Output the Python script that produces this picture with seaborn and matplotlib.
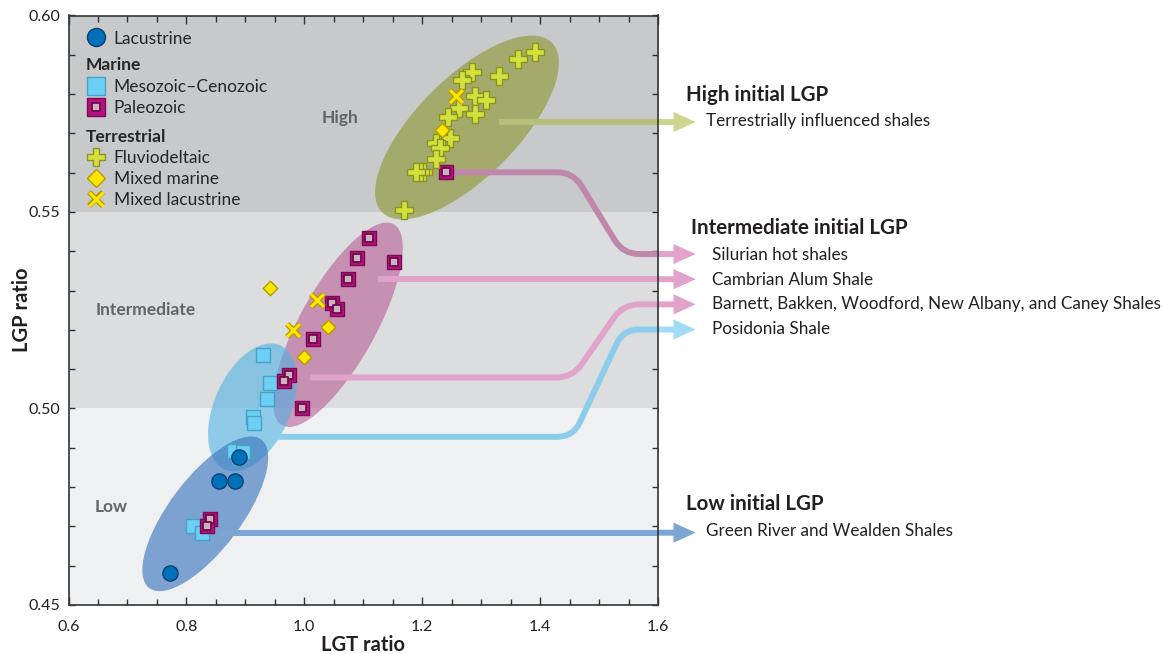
import numpy as np
import matplotlib
matplotlib.use('Agg')
import matplotlib.pyplot as plt
import seaborn as sns
from matplotlib.patches import Ellipse, PathPatch, FancyArrowPatch
from matplotlib.path import Path
from matplotlib.lines import Line2D
from matplotlib.legend_handler import HandlerTuple
from matplotlib.transforms import ScaledTranslation
from matplotlib.ticker import MultipleLocator

# ---- data (LGT ratio, LGP ratio) ----
lac_lgt = [0.773, 0.856, 0.883, 0.889]
lac_lgp = [0.4582, 0.4815, 0.4815, 0.4876]

meso_lgt = [0.930, 0.942, 0.937, 0.913, 0.915, 0.881, 0.896, 0.812, 0.827]
meso_lgp = [0.5135, 0.5066, 0.5025, 0.4979, 0.4963, 0.4892, 0.4889, 0.4700, 0.4682]

paleo_lgt = [1.240, 1.109, 1.089, 1.152, 1.074, 1.047, 1.055, 1.015, 0.974, 0.966, 0.996, 0.840, 0.835]
paleo_lgp = [0.5601, 0.5434, 0.5383, 0.5373, 0.5329, 0.5268, 0.5253, 0.5176, 0.5084, 0.5071, 0.5002, 0.4718, 0.4700]

fluvio_lgt = [1.392, 1.363, 1.331, 1.284, 1.268, 1.290, 1.309, 1.262, 1.290, 1.243,
              1.248, 1.223, 1.231, 1.224, 1.202, 1.196, 1.189, 1.169]
fluvio_lgp = [0.5908, 0.5890, 0.5846, 0.5857, 0.5836, 0.5795, 0.5785, 0.5765, 0.5749, 0.5741,
              0.5688, 0.5675, 0.5662, 0.5634, 0.5603, 0.5601, 0.5603, 0.5506]

mixmar_lgt = [1.233, 0.942, 1.040, 0.999]
mixmar_lgp = [0.5708, 0.5306, 0.5207, 0.5132]

mixlac_lgt = [1.258, 1.021, 0.981]
mixlac_lgp = [0.5795, 0.5276, 0.5201]

# LGP bands
band_lo = [0.45, 0.50, 0.55]
band_hi = [0.50, 0.55, 0.60]
band_col = ['#eff0f2', '#dcdddf', '#c8c9cb']

# grouping ellipses: centre (data), semi axes (px), angle (deg)
ell_cx = [1.276, 1.057, 0.912, 0.832]
ell_cy = [0.5715, 0.5213, 0.5003, 0.4732]
ell_a = [120, 115, 68, 93]
ell_b = [50, 38, 38, 36]
ell_ang = [45, 61, 66, 53]
ell_col = ['#959e43', '#b5528f', '#4fb3e3', '#3d78be']
ell_alpha = [0.7, 0.55, 0.6, 0.65]

# connector routes (data coords) and labels
routes = [
    ([1.331, 1.6], [0.5729, 0.5729]),
    ([1.240, 1.456, 1.541, 1.6], [0.5601, 0.5601, 0.5393, 0.5393]),
    ([1.125, 1.6], [0.5329, 0.5329]),
    ([1.010, 1.455, 1.541, 1.6], [0.5079, 0.5079, 0.5265, 0.5265]),
    ([0.944, 1.456, 1.541, 1.6], [0.4928, 0.4928, 0.5201, 0.5201]),
    ([0.857, 1.6], [0.4684, 0.4684]),
]
route_col = ['#b6be7a', '#bf87aa', '#e0a3ca', '#e0a3ca', '#8ccdec', '#7ea6d4']
arrow_col = ['#cdd68f', '#e2a2cc', '#e2a2cc', '#e2a2cc', '#a0dcf5', '#7da5d4']
arrow_tip = 1.664

W, H = 1163, 654

sns.set_theme(style='ticks')
plt.rcParams['font.family'] = ['Lato', 'DejaVu Sans']

fig = plt.figure(figsize=(W / 100, H / 100), dpi=100)
ax = fig.add_axes([68.5 / W, 1 - 605 / H, 589.5 / W, 589.5 / H])
ax.set_xlim(0.6, 1.6)
ax.set_ylim(0.45, 0.60)
ax.set_facecolor('white')


def fpos(x, y):
    return x / W, 1 - y / H


# background bands
for lo, hi, c in zip(band_lo, band_hi, band_col):
    ax.axhspan(lo, hi, color=c, zorder=0, lw=0)

# ellipses (size in pixels, placed at data centre)
for cx, cy, a, b, ang, c, al in zip(ell_cx, ell_cy, ell_a, ell_b, ell_ang, ell_col, ell_alpha):
    tr = fig.dpi_scale_trans + ScaledTranslation(cx, cy, ax.transData)
    ax.add_patch(Ellipse((0, 0), 2 * a / 100, 2 * b / 100, angle=ang, transform=tr,
                         facecolor=c, alpha=al, lw=0, zorder=1))


def connector(xs, ys, color, r=16):
    pts = ax.transData.transform(np.column_stack([xs, ys]))
    verts, codes = [pts[0]], [Path.MOVETO]
    for i in range(1, len(pts) - 1):
        p, v, n = pts[i - 1], pts[i], pts[i + 1]
        up = (p - v) / np.linalg.norm(p - v)
        un = (n - v) / np.linalg.norm(n - v)
        verts += [v + r * up, v, v + r * un]
        codes += [Path.LINETO, Path.CURVE3, Path.CURVE3]
    verts.append(pts[-1])
    codes.append(Path.LINETO)
    verts = ax.transData.inverted().transform(np.array(verts))
    ax.add_patch(PathPatch(Path(verts, codes), fill=False, edgecolor=color, lw=4.3,
                           capstyle='butt', joinstyle='round', zorder=2))


for (xs, ys), lc, ac in zip(routes, route_col, arrow_col):
    connector(xs, ys, lc)
    arr = FancyArrowPatch((xs[-1], ys[-1]), (arrow_tip, ys[-1]),
                          arrowstyle='simple,head_length=1.6,head_width=1.45,tail_width=0.43',
                          mutation_scale=10, color=ac, lw=0, shrinkA=0, shrinkB=0,
                          clip_on=False, zorder=2)
    ax.add_patch(arr)

# points
sns.scatterplot(x=lac_lgt, y=lac_lgp, marker='o', s=120, color='#0070ba',
                edgecolor='#0b406f', linewidth=1, ax=ax, zorder=5)
sns.scatterplot(x=meso_lgt, y=meso_lgp, marker='s', s=100, color='#6dcff6',
                edgecolor='#47a2c4', linewidth=1, ax=ax, zorder=4)
sns.scatterplot(x=paleo_lgt, y=paleo_lgp, marker='s', s=100, color='#b8107f',
                edgecolor='#7a0b52', linewidth=1, ax=ax, zorder=5)
sns.scatterplot(x=paleo_lgt, y=paleo_lgp, marker='s', s=30, color='#cbb3c2',
                edgecolor='#6e0a4a', linewidth=1.3, ax=ax, zorder=5)
sns.scatterplot(x=fluvio_lgt, y=fluvio_lgp, marker='P', s=150, color='#d4e03c',
                edgecolor='#8b9423', linewidth=1, ax=ax, zorder=5)
sns.scatterplot(x=mixmar_lgt, y=mixmar_lgp, marker='D', s=55, color='#ffe600',
                edgecolor='#b39b00', linewidth=1, ax=ax, zorder=6)
sns.scatterplot(x=mixlac_lgt, y=mixlac_lgp, marker='x', s=85, color='#b39b00',
                linewidth=4.0, ax=ax, zorder=6)
sns.scatterplot(x=mixlac_lgt, y=mixlac_lgp, marker='x', s=85, color='#ffe600',
                linewidth=2.2, ax=ax, zorder=6)

# axes styling
ax.xaxis.set_major_locator(MultipleLocator(0.2))
ax.xaxis.set_minor_locator(MultipleLocator(0.05))
ax.yaxis.set_major_locator(MultipleLocator(0.05))
ax.yaxis.set_minor_locator(MultipleLocator(0.01))
ax.xaxis.set_major_formatter(plt.FuncFormatter(lambda v, p: f'{v:.1f}'))
ax.yaxis.set_major_formatter(plt.FuncFormatter(lambda v, p: f'{v:.2f}'))
ax.tick_params(which='both', direction='in', top=True, right=True, color='#333333',
               width=1, labelsize=11.5, labelcolor='#231f20')
ax.tick_params(axis='x', which='major', length=6, pad=11)
ax.tick_params(axis='x', which='minor', length=4)
ax.tick_params(axis='y', which='both', length=4.5, pad=6)
for sp in ax.spines.values():
    sp.set_color('#333333')
    sp.set_linewidth(1.2)
    sp.set_zorder(7)
ax.set_xlabel('LGT ratio', fontsize=14.5, fontweight='bold', color='#231f20')
ax.set_ylabel('LGP ratio', fontsize=14.5, fontweight='bold', color='#231f20')
ax.xaxis.label.set_va('center')
ax.xaxis.set_label_coords(0.5, (605 - 645) / 589.5)
ax.yaxis.label.set_va('center')
ax.yaxis.set_label_coords((22 - 68.5) / 589.5, (605 - 310) / 589.5)

# band labels
for txt, x, y in [('High', 340, 118), ('Intermediate', 146, 310), ('Low', 111, 507)]:
    fig.text(*fpos(x, y), txt, ha='center', va='center', fontsize=12.5,
             fontweight='bold', color='#636466')

# legends
def mk(marker, ms, fc, ec, mew=1):
    return Line2D([], [], ls='none', marker=marker, markersize=ms, markerfacecolor=fc,
                  markeredgecolor=ec, markeredgewidth=mew)


leg_kw = dict(frameon=False, fontsize=12.5, borderpad=0, borderaxespad=0, handlelength=1.1,
              handletextpad=0.5, labelspacing=0.3, alignment='left',
              handler_map={tuple: HandlerTuple(ndivide=1)},
              title_fontproperties={'weight': 'bold', 'size': 12.5})
pal = (mk('s', 12.5, '#b8107f', '#7a0b52'), mk('s', 6, '#cbb3c2', '#6e0a4a', 1.3))
xlac = (mk('x', 10.5, '#b39b00', '#b39b00', 4.0), mk('x', 10.5, '#ffe600', '#ffe600', 2.2))
ax_xy = lambda x, y: ((x - 68.5) / 589.5, (605 - y) / 589.5)

l1 = ax.legend([mk('o', 13, '#0070ba', '#0b406f')], ['Lacustrine'], loc='upper left',
               bbox_to_anchor=ax_xy(86, 30.5), **leg_kw)
ax.add_artist(l1)
l2 = ax.legend([mk('s', 12.5, '#6dcff6', '#47a2c4'), pal], ['Mesozoic–Cenozoic', 'Paleozoic'],
               title='Marine', loc='upper left', bbox_to_anchor=ax_xy(86, 57.5), **leg_kw)
ax.add_artist(l2)
ax.legend([mk('P', 13, '#d4e03c', '#8b9423'), mk('D', 9, '#ffe600', '#b39b00'), xlac],
          ['Fluviodeltaic', 'Mixed marine', 'Mixed lacustrine'],
          title='Terrestrial', loc='upper left', bbox_to_anchor=ax_xy(86, 128.5), **leg_kw)

# right-hand annotations
heads = [('High initial LGP', 686, 95), ('Intermediate initial LGP', 691, 228),
         ('Low initial LGP', 686, 504)]
for txt, x, y in heads:
    fig.text(*fpos(x, y), txt, ha='left', va='center', fontsize=14.8, fontweight='bold',
             color='#231f20')
items = [('Terrestrially influenced shales', 706, 121), ('Silurian hot shales', 712, 255),
         ('Cambrian Alum Shale', 712, 280),
         ('Barnett, Bakken, Woodford, New Albany, and Caney Shales', 712, 304),
         ('Posidonia Shale', 712, 329), ('Green River and Wealden Shales', 706, 531)]
for txt, x, y in items:
    fig.text(*fpos(x, y), txt, ha='left', va='center', fontsize=12.3, color='#231f20')

fig.savefig('out.png', dpi=100)
